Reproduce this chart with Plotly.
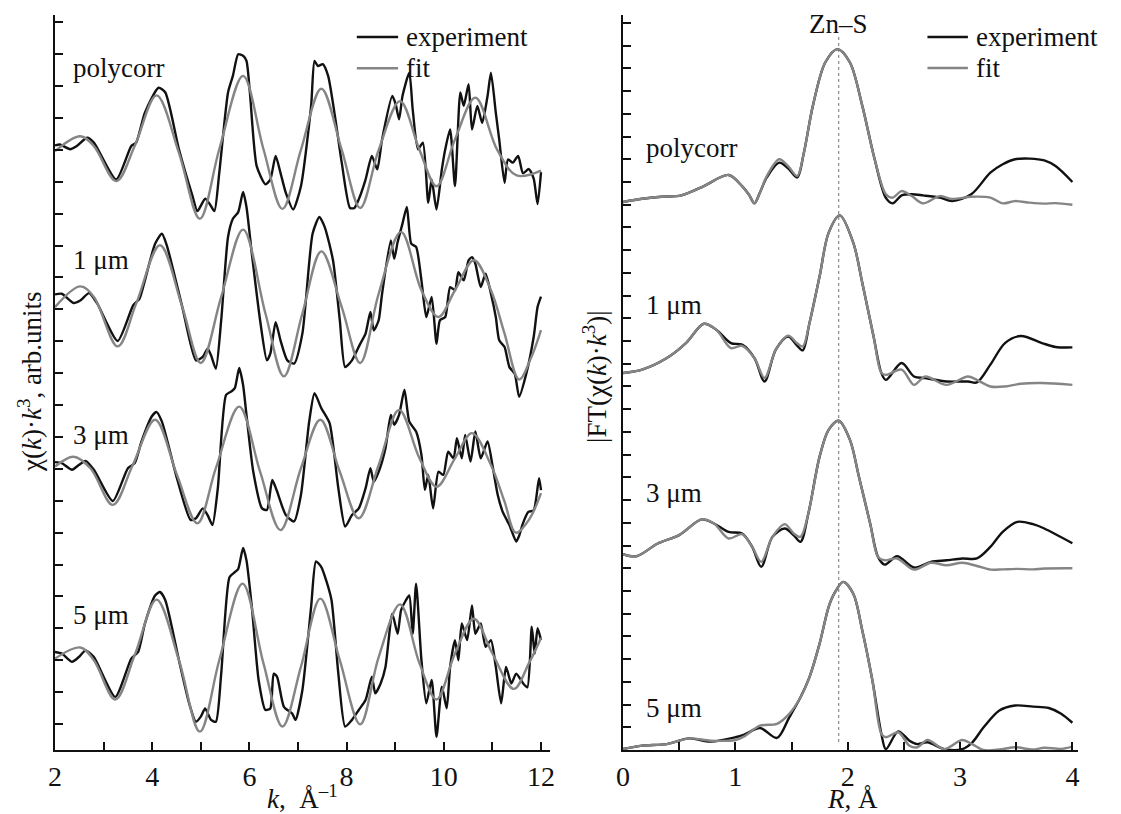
import plotly.graph_objects as go

# ---------------- left panel: chi(k)*k^3 (k, value incl. vertical offset) ----------------
poly_exp = [(2.0,18.14),(2.10,18.17),(2.31,18.02),(2.45,18.12),(2.66,18.38),(2.80,18.23),(3.26,17.07),(3.57,18.12),
            (3.67,18.23),(3.85,19.17),(4.13,19.95),(4.27,19.80),(4.55,18.02),(4.83,16.55),(4.93,16.08),(5.09,16.47),
            (5.19,16.29),(5.28,16.08),(5.38,17.28),(5.56,19.80),(5.66,20.32),(5.77,21.0),(5.87,20.95),(5.94,20.79),
            (6.01,19.80),(6.15,17.49),(6.33,16.92),(6.43,17.07),(6.54,17.81),(6.64,17.28),(6.75,16.65),(6.90,16.13),
            (7.06,16.86),(7.27,19.38),(7.34,20.79),(7.41,20.63),(7.51,20.69),(7.62,20.32),(7.76,19.06),(7.90,17.60),
            (8.07,16.18),(8.16,16.18),(8.25,16.45),(8.39,17.07),(8.52,17.81),(8.63,17.39),(8.73,18.33),(8.94,19.69),
            (9.01,19.43),(9.08,18.96),(9.15,19.69),(9.29,20.42),(9.36,19.27),(9.47,18.02),(9.57,18.23),(9.68,16.34),
            (9.75,17.07),(9.85,16.13),(9.96,17.39),(10.03,18.02),(10.13,18.64),(10.23,16.86),(10.34,19.80),(10.41,19.38),
            (10.51,20.06),(10.58,18.64),(10.69,19.38),(10.79,18.85),(10.90,19.69),(10.97,20.42),(11.07,19.17),(11.14,18.33),
            (11.25,16.97),(11.32,17.70),(11.42,17.60),(11.53,17.81),(11.63,17.27),(11.75,17.40),(11.85,17.10),(11.93,16.30),
            (12.0,17.30)]
poly_fit = [(2.0,17.96),(2.52,18.43),(2.8,18.12),(3.26,17.02),(3.64,18.12),(4.09,19.71),(4.55,17.91),(4.98,15.84),
            (5.38,18.02),(5.87,20.32),(6.29,18.02),(6.68,16.15),(7.06,18.0),(7.48,19.92),(7.9,18.0),(8.28,16.18),
            (8.66,18.0),(9.1,19.53),(9.5,18.0),(9.85,16.86),(10.23,18.33),(10.65,19.64),(11.1,18.0),(11.5,17.2),(12.0,17.35)]

um1_exp = [(2.0,13.47),(2.14,13.49),(2.38,13.20),(2.52,13.28),(2.70,13.51),(2.87,13.18),(3.29,12.01),(3.61,13.13),
           (3.74,13.34),(3.85,13.91),(4.06,15.06),(4.20,15.37),(4.30,15.01),(4.62,13.07),(4.90,11.40),(5.04,11.51),
           (5.14,11.77),(5.21,11.56),(5.31,11.14),(5.42,12.66),(5.56,15.27),(5.66,15.84),(5.77,16.05),(5.87,16.68),
           (5.94,16.21),(6.05,14.75),(6.22,12.66),(6.36,11.40),(6.43,11.61),(6.54,12.60),(6.64,12.03),(6.78,11.40),
           (6.92,11.30),(7.09,12.24),(7.30,15.37),(7.44,15.90),(7.55,15.58),(7.72,14.54),(7.86,12.66),(7.97,11.19),
           (8.11,11.40),(8.28,11.92),(8.39,12.24),(8.49,12.92),(8.56,12.34),(8.66,12.66),(8.73,13.49),(8.91,15.16),
           (8.98,14.59),(9.05,15.11),(9.15,15.69),(9.24,16.21),(9.33,15.06),(9.43,14.96),(9.54,13.91),(9.64,12.76),
           (9.75,13.39),(9.85,11.92),(9.92,12.66),(10.03,12.76),(10.13,13.70),(10.23,13.60),(10.30,14.17),(10.41,13.91),
           (10.51,14.54),(10.58,14.64),(10.65,14.43),(10.76,13.70),(10.86,14.12),(10.97,13.49),(11.07,12.76),(11.14,12.03),
           (11.25,11.82),(11.35,11.19),(11.46,10.98),(11.55,10.26),(11.70,11.00),(11.85,12.14),(11.93,13.08),(12.0,13.40)]
um1_fit = [(2.0,13.07),(2.52,13.72),(2.8,13.39),(3.29,11.84),(3.67,13.18),(4.16,15.01),(4.62,13.07),(5.0,11.32),
           (5.42,13.39),(5.87,15.5),(6.33,12.87),(6.71,10.9),(7.09,12.87),(7.48,14.82),(7.9,13.07),(8.28,11.32),
           (8.66,13.49),(9.12,15.43),(9.54,13.6),(9.89,12.76),(10.23,13.6),(10.62,14.54),(10.97,13.6),(11.25,12.24),
           (11.55,10.8),(11.8,11.5),(12.0,12.35)]

um3_exp = [(2.0,8.21),(2.14,8.18),(2.35,7.97),(2.49,8.12),(2.63,8.25),(2.80,7.97),(3.19,6.99),(3.50,8.02),
           (3.64,8.18),(3.78,8.86),(3.99,9.64),(4.09,9.78),(4.20,9.48),(4.51,7.70),(4.79,6.40),(4.90,6.45),
           (5.04,6.76),(5.14,6.55),(5.24,6.24),(5.35,7.39),(5.52,10.32),(5.63,10.43),(5.70,10.53),(5.79,11.16),
           (5.87,10.63),(5.94,9.69),(6.08,7.91),(6.26,6.76),(6.36,6.71),(6.47,7.65),(6.57,7.29),(6.75,6.55),
           (6.92,6.35),(7.06,7.18),(7.23,9.48),(7.34,10.37),(7.48,9.90),(7.65,9.43),(7.83,7.39),(7.97,6.19),
           (8.11,6.55),(8.25,6.76),(8.39,7.39),(8.49,8.02),(8.56,7.60),(8.66,7.91),(8.80,8.65),(8.91,9.69),
           (8.98,9.38),(9.08,9.69),(9.19,10.48),(9.29,9.48),(9.43,9.17),(9.54,8.44),(9.61,7.34),(9.68,7.81),
           (9.78,6.76),(9.89,7.91),(9.99,7.81),(10.09,8.54),(10.20,8.33),(10.27,8.96),(10.37,8.33),(10.44,9.06),
           (10.55,8.23),(10.65,9.17),(10.76,8.33),(10.90,8.86),(11.00,8.12),(11.11,7.18),(11.21,6.66),(11.35,6.24),
           (11.49,5.72),(11.55,5.90),(11.63,6.30),(11.74,6.65),(11.85,6.70),(11.96,7.71),(12.0,7.33)]
um3_fit = [(2.0,8.07),(2.38,8.38),(2.73,8.02),(3.19,6.87),(3.6,8.12),(4.06,9.54),(4.51,7.81),(4.93,6.29),
           (5.31,8.02),(5.79,9.95),(6.22,7.91),(6.64,6.08),(7.06,8.02),(7.46,9.54),(7.86,7.91),(8.25,6.45),
           (8.66,8.12),(9.08,9.85),(9.5,8.33),(9.85,7.44),(10.23,8.33),(10.58,9.12),(10.97,8.12),(11.25,6.97),
           (11.48,6.0),(11.75,6.4),(12.0,7.24)]

um5_exp = [(2.0,2.26),(2.14,2.21),(2.35,1.95),(2.49,2.10),(2.63,2.31),(2.80,2.10),(3.24,0.85),(3.57,2.05),
           (3.71,2.26),(3.85,3.15),(4.06,4.03),(4.16,4.14),(4.27,3.88),(4.55,2.00),(4.76,0.65),(4.90,0.07),
           (5.00,0.23),(5.09,0.49),(5.21,0.13),(5.31,0.07),(5.42,1.58),(5.59,4.60),(5.70,4.76),(5.77,4.86),
           (5.87,5.52),(5.94,5.13),(6.05,3.67),(6.19,1.38),(6.33,0.44),(6.43,0.49),(6.50,1.58),(6.57,1.48),
           (6.71,0.54),(6.88,0.33),(6.95,0.13),(7.09,1.06),(7.27,3.67),(7.37,5.10),(7.48,4.92),(7.58,4.50),
           (7.69,3.88),(7.83,1.58),(7.97,-0.08),(8.11,0.13),(8.25,0.44),(8.39,0.75),(8.52,1.48),(8.59,0.96),
           (8.70,1.27),(8.80,1.79),(8.94,3.46),(9.05,2.83),(9.12,3.56),(9.22,3.88),(9.29,4.03),(9.36,2.83),
           (9.43,4.40),(9.54,2.00),(9.64,0.65),(9.75,1.38),(9.85,-0.40),(9.96,1.17),(10.06,0.49),(10.13,1.79),
           (10.23,2.63),(10.30,2.00),(10.37,3.15),(10.48,2.63),(10.58,3.72),(10.65,2.83),(10.76,3.15),(10.86,2.42),
           (10.97,2.63),(11.07,1.79),(11.18,0.65),(11.28,1.79),(11.39,1.27),(11.49,1.58),(11.63,1.28),(11.72,1.15),
           (11.81,3.05),(11.87,2.20),(11.93,3.00),(12.0,2.63)]
um5_fit = [(2.0,2.05),(2.52,2.4),(2.8,2.0),(3.24,0.77),(3.64,2.16),(4.09,3.9),(4.55,2.0),(4.98,-0.24),
           (5.38,2.0),(5.86,4.4),(6.29,1.9),(6.68,-0.08),(7.06,1.79),(7.46,3.93),(7.86,2.0),(8.28,-0.01),
           (8.66,2.1),(9.1,3.75),(9.5,1.9),(9.85,0.77),(10.23,2.21),(10.62,3.3),(11.0,2.21),(11.44,1.1),
           (11.75,1.9),(12.0,2.7)]

# ---------------- right panel: |FT| (R, value incl. vertical offset) ----------------
ft_poly_exp = [(0,24.12),(0.17,24.26),(0.34,24.35),(0.52,24.41),(0.72,24.82),(0.94,25.31),(1.06,24.82),(1.12,24.45),
               (1.17,24.06),(1.22,24.55),(1.28,25.2),(1.39,25.85),(1.47,25.6),(1.55,25.2),(1.61,26.29),(1.69,28.35),
               (1.80,30.26),(1.91,30.85),(2.02,30.26),(2.13,28.35),(2.24,26.0),(2.34,24.3),(2.40,24.06),(2.48,24.41),
               (2.57,24.46),(2.67,24.41),(2.82,24.31),(2.93,24.16),(3.10,24.46),(3.27,25.41),(3.38,25.78),(3.49,26.0),
               (3.62,26.03),(3.75,25.95),(3.85,25.7),(4.0,25.0)]
ft_poly_fit = [(0,24.12),(0.17,24.26),(0.34,24.35),(0.52,24.41),(0.72,24.82),(0.94,25.31),(1.06,24.82),(1.12,24.45),
               (1.17,24.06),(1.22,24.55),(1.28,25.26),(1.39,26.0),(1.47,25.7),(1.55,25.26),(1.61,26.29),(1.69,28.35),
               (1.80,30.26),(1.91,30.85),(2.02,30.26),(2.13,28.35),(2.24,26.0),(2.34,24.46),(2.40,24.31),(2.48,24.6),
               (2.57,24.38),(2.67,24.06),(2.82,24.38),(2.93,24.25),(3.10,24.35),(3.27,24.31),(3.38,24.06),(3.49,24.16),
               (3.62,24.09),(3.75,24.05),(3.85,24.07),(4.0,24.0)]

ft_um1_exp = [(0,16.59),(0.17,16.74),(0.39,17.25),(0.56,17.91),(0.72,18.76),(0.83,18.5),(0.96,17.91),(1.06,17.84),
              (1.17,17.25),(1.26,16.22),(1.36,17.62),(1.47,18.2),(1.55,17.8),(1.60,17.59),(1.66,18.79),(1.75,20.85),
              (1.83,22.76),(1.93,23.53),(2.05,22.32),(2.13,20.56),(2.23,18.21),(2.30,16.59),(2.34,16.29),(2.48,17.03),
              (2.59,16.44),(2.69,16.37),(2.88,16.22),(3.07,16.22),(3.15,16.18),(3.27,16.96),(3.40,17.91),(3.54,18.22),
              (3.73,17.91),(3.85,17.74),(4.0,17.72)]
ft_um1_fit = [(0,16.59),(0.17,16.74),(0.39,17.25),(0.56,17.91),(0.72,18.76),(0.83,18.5),(0.96,17.69),(1.06,17.79),
              (1.17,17.25),(1.26,16.37),(1.36,17.62),(1.47,18.24),(1.55,17.9),(1.60,17.76),(1.66,18.79),(1.75,20.85),
              (1.83,22.76),(1.93,23.53),(2.05,22.32),(2.13,20.56),(2.23,18.21),(2.30,16.59),(2.34,16.51),(2.48,16.74),
              (2.59,16.07),(2.69,16.44),(2.88,16.07),(3.07,16.44),(3.15,16.29),(3.27,16.0),(3.40,16.0),(3.54,16.12),
              (3.73,16.15),(4.0,16.07)]

ft_um3_exp = [(0,8.62),(0.12,8.53),(0.31,9.09),(0.5,9.46),(0.70,10.15),(0.81,9.97),(0.94,9.6),(1.06,9.53),
              (1.15,8.94),(1.23,8.06),(1.33,9.38),(1.44,9.75),(1.52,9.45),(1.58,9.16),(1.65,10.41),(1.75,12.91),
              (1.83,14.09),(1.92,14.49),(2.02,13.65),(2.10,12.03),(2.20,9.97),(2.27,8.5),(2.33,8.16),(2.44,8.53),
              (2.59,8.03),(2.74,8.28),(2.88,8.35),(3.02,8.43),(3.15,8.43),(3.27,8.94),(3.38,9.6),(3.51,10.04),
              (3.65,9.94),(3.75,9.75),(4.0,9.1)]
ft_um3_fit = [(0,8.62),(0.12,8.53),(0.31,9.09),(0.5,9.46),(0.70,10.15),(0.81,9.97),(0.94,9.31),(1.06,9.5),
              (1.15,8.94),(1.23,8.28),(1.33,9.38),(1.44,9.94),(1.52,9.53),(1.58,9.38),(1.65,10.41),(1.75,12.91),
              (1.83,14.09),(1.92,14.49),(2.02,13.65),(2.10,12.03),(2.20,9.97),(2.27,8.5),(2.33,8.35),(2.44,8.43),
              (2.59,7.94),(2.74,8.24),(2.88,8.13),(3.02,8.24),(3.15,8.1),(3.27,7.94),(3.38,7.95),(3.51,7.97),
              (3.65,7.95),(3.75,7.99),(4.0,8.0)]

ft_um5_exp = [(0,0.04),(0.17,0.19),(0.39,0.26),(0.59,0.51),(0.78,0.37),(1.0,0.56),(1.08,0.68),(1.22,0.97),
              (1.37,0.53),(1.48,1.44),(1.58,2.32),(1.66,3.21),(1.75,4.68),(1.83,6.29),(1.88,6.88),(1.96,7.4),
              (2.05,6.88),(2.13,5.26),(2.22,3.06),(2.30,0.71),(2.34,0.04),(2.45,0.82),(2.55,0.41),(2.62,0.26),
              (2.71,0.34),(2.86,0.04),(3.02,0.04),(3.11,0.34),(3.21,1.0),(3.35,1.74),(3.49,1.96),(3.65,1.91),
              (3.79,1.85),(3.9,1.6),(4.0,1.2)]
ft_um5_fit = [(0,0.04),(0.17,0.19),(0.39,0.26),(0.59,0.51),(0.78,0.41),(1.0,0.44),(1.08,0.6),(1.22,1.07),
              (1.37,1.15),(1.48,1.59),(1.58,2.32),(1.66,3.21),(1.75,4.68),(1.83,6.29),(1.88,6.88),(1.96,7.4),
              (2.05,6.88),(2.13,5.26),(2.22,3.06),(2.30,0.71),(2.34,0.56),(2.45,0.78),(2.55,0.19),(2.62,0.12),
              (2.71,0.44),(2.86,0.04),(3.02,0.44),(3.11,0.25),(3.21,0.0),(3.35,0.02),(3.49,0.12),(3.65,0.02),
              (3.75,0.1),(3.9,0.05),(4.0,0.15)]

sample_labels = ["polycorr", "1 μm", "3 μm", "5 μm"]
k_ticks = list(range(2, 13))
k_ticklabels = ["2", "", "4", "", "6", "", "8", "", "10", "", "12"]
r_ticks = [0, 0.5, 1, 1.5, 2, 2.5, 3, 3.5, 4]
r_ticklabels = ["0", "", "1", "", "2", "", "3", "", "4"]

# ---------------- style ----------------
FONT = "Liberation Serif"
BLACK = "#111111"
GRAY = "#858585"
LW = 2.4
FS = 27

W, H = 1121, 814
ML, MR, MT, MB = 55, 43, 15, 64
PW = W - ML - MR
PH = H - MT - MB

fig = go.Figure()

def add(pairs, color, xa, ya, smooth):
    xs = [p[0] for p in pairs]
    ys = [p[1] for p in pairs]
    fig.add_trace(go.Scatter(x=xs, y=ys, mode="lines", xaxis=xa, yaxis=ya, showlegend=False,
                             line=dict(color=color, width=LW, shape="spline", smoothing=smooth),
                             hoverinfo="skip"))

for e, f in [(poly_exp, poly_fit), (um1_exp, um1_fit), (um3_exp, um3_fit), (um5_exp, um5_fit)]:
    add(e, BLACK, "x", "y", 0.6)
    add(f, GRAY, "x", "y", 1.0)
for e, f in [(ft_poly_exp, ft_poly_fit), (ft_um1_exp, ft_um1_fit), (ft_um3_exp, ft_um3_fit), (ft_um5_exp, ft_um5_fit)]:
    add(e, BLACK, "x2", "y2", 0.9)
    add(f, GRAY, "x2", "y2", 0.9)

left_end = (550 - ML) / PW
right_start = (623 - ML) / PW
axis_common = dict(showline=True, linecolor=BLACK, linewidth=2, ticks="inside", ticklen=8, tickwidth=1.6,
                   tickcolor=BLACK, showgrid=False, zeroline=False,
                   tickfont=dict(family=FONT, size=28, color=BLACK))

fig.update_layout(
    width=W, height=H, margin=dict(l=ML, r=MR, t=MT, b=MB),
    paper_bgcolor="white", plot_bgcolor="white",
    font=dict(family=FONT, size=FS, color=BLACK),
    xaxis=dict(domain=[0, left_end], range=[2, 2 + (550 - 55) / 48.6], anchor="y",
               tickmode="array", tickvals=k_ticks, ticktext=k_ticklabels, **axis_common),
    yaxis=dict(domain=[0, 1], range=[-0.815, 22.23], anchor="x",
               tickmode="array", tickvals=list(range(0, 23)), showticklabels=False, **axis_common),
    xaxis2=dict(domain=[right_start, 1], range=[0, 4.05], anchor="y2",
                tickmode="array", tickvals=r_ticks, ticktext=r_ticklabels, **axis_common),
    yaxis2=dict(domain=[0, 1], range=[0, 32.35], anchor="x2",
                tickmode="array", tickvals=list(range(0, 33)), showticklabels=False, **axis_common),
)

# reference line for Zn-S distance
fig.add_shape(type="line", xref="x2", yref="y2", x0=1.92, x1=1.92, y0=0.35, y1=31.4,
              line=dict(color="#8a8a8a", width=1.2, dash="dot"), layer="below")

ann = []
def txt(x, y, s, xref, yref, xanchor="left", yanchor="middle", angle=0, size=FS):
    ann.append(dict(x=x, y=y, xref=xref, yref=yref, text=s, showarrow=False, xanchor=xanchor,
                    yanchor=yanchor, textangle=angle, borderpad=0,
                    font=dict(family=FONT, size=size, color=BLACK)))

# legends (drawn as line samples + text)
for xr, yr, x0, x1, xt, ye, yf in [("x", "y", 8.21, 9.06, 9.2, 21.54, 20.56),
                                    ("x2", "y2", 2.71, 3.07, 3.13, 31.38, 30.02)]:
    fig.add_shape(type="line", xref=xr, yref=yr, x0=x0, x1=x1, y0=ye, y1=ye, line=dict(color=BLACK, width=LW))
    fig.add_shape(type="line", xref=xr, yref=yr, x0=x0, x1=x1, y0=yf, y1=yf, line=dict(color=GRAY, width=LW))
    txt(xt, ye, "experiment", xr, yr)
    txt(xt, yf, "fit", xr, yr)

# sample labels
for lab, yl in zip(sample_labels, [20.56, 14.55, 9.06, 3.42]):
    txt(2.35, yl, lab, "x", "y")
for lab, yr in zip(sample_labels, [26.5, 19.59, 11.3, 1.83]):
    txt(0.196, yr, lab, "x2", "y2")

txt(1.92, 31.95, "Zn–S", "x2", "y2", xanchor="center")

# axis titles
txt((30 - ML) / PW, (750 - 382) / PH, "χ(<i>k</i>)·<i>k</i><sup>3</sup>, arb.units", "paper", "paper",
    xanchor="center", angle=-90)
txt((595 - ML) / PW, (750 - 377) / PH, "|FT(χ(<i>k</i>)·<i>k</i><sup>3</sup>)|", "paper", "paper",
    xanchor="center", angle=-90)
txt(7.1, (750 - 797) / PH, "<i>k</i>,  Å<sup>–1</sup>", "x", "paper", xanchor="center")
txt(2.04, (750 - 799) / PH, "<i>R</i>, Å", "x2", "paper", xanchor="center")

fig.update_layout(annotations=ann)
# remove the default page margin so the figure fills the window exactly
fig.write_html("out.html", config={"displayModeBar": False},
               post_script="document.body.style.margin='0px';")
